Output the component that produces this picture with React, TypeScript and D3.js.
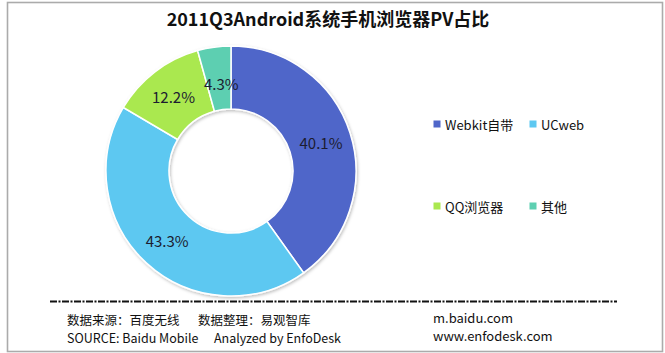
import React from 'react';
import * as d3 from 'd3';

const categories = ['Webkit自带', 'UCweb', 'QQ浏览器', '其他'];
const shares = [40.1, 43.3, 12.2, 4.3];
const colors = ['#4F66C9', '#5DC8F1', '#AAE84F', '#5DCFB1'];

const title = '2011Q3Android系统手机浏览器PV占比';
const footerLeft = [
  ['数据来源：百度无线', '数据整理：易观智库'],
  ['SOURCE: Baidu Mobile', 'Analyzed by EnfoDesk'],
];
const footerRight = ['m.baidu.com', 'www.enfodesk.com'];

const W = 665;
const H = 353;
const FONT = '"Microsoft YaHei", "Noto Sans CJK SC", "Noto Sans", sans-serif';

export default function App() {
  const cx = 231;
  const cy = 171;
  const outer = 125;
  const inner = 62;

  const pie = d3.pie<number>().sort(null).value(d => d);
  const arcs = pie(shares);
  const arc = d3.arc<d3.PieArcDatum<number>>().innerRadius(inner).outerRadius(outer);
  const labelArc = d3
    .arc<d3.PieArcDatum<number>>()
    .innerRadius((inner + outer) / 2 + 1)
    .outerRadius((inner + outer) / 2 + 1);

  // legend: 2 columns, 2 rows
  const legendX = d3.scalePoint<number>().domain([0, 1]).range([437, 533]);
  const legendY = d3.scalePoint<number>().domain([0, 1]).range([124, 206]);

  return (
    <svg
      width={W}
      height={H}
      style={{ position: 'absolute', left: 0, top: 0, fontFamily: FONT }}
    >
      <rect x={0} y={0} width={W} height={H} fill="#fff" />
      <rect x={7.5} y={2.5} width={655} height={349} fill="none" stroke="#ABABAB" strokeWidth={1.6} />

      <text
        x={328}
        y={26}
        textAnchor="middle"
        fontSize={18}
        fontWeight="bold"
        fill="#111"
      >
        {title}
      </text>

      <defs>
        <filter id="sh" x="-10%" y="-10%" width="120%" height="120%">
          <feDropShadow dx="1" dy="1.5" stdDeviation="1.5" floodColor="#000" floodOpacity="0.25" />
        </filter>
      </defs>

      <g transform={`translate(${cx},${cy})`}>
        <g filter="url(#sh)">
          {arcs.map((a, i) => (
            <path key={i} d={arc(a) || ''} fill={colors[i]} stroke="#fff" strokeWidth={1.5} />
          ))}
        </g>
        {arcs.map((a, i) => {
          let [lx, ly] = labelArc.centroid(a);
          if (i === 3) {
            lx += 3;
            ly += 6;
          }
          return (
            <text
              key={i}
              x={lx}
              y={ly}
              textAnchor="middle"
              dominantBaseline="central"
              fontSize={15}
              fill="#1c1c30"
            >
              {`${shares[i].toFixed(1)}%`}
            </text>
          );
        })}
      </g>

      {categories.map((c, i) => {
        const x = legendX(i % 2)!;
        const y = legendY(Math.floor(i / 2))!;
        return (
          <g key={c}>
            <rect x={x - 3.5} y={y - 3.5} width={7} height={7} fill={colors[i]} />
            <text x={x + 8} y={y} dominantBaseline="central" fontSize={13} fill="#111">
              {c}
            </text>
          </g>
        );
      })}

      <line
        x1={50}
        x2={617}
        y1={301.5}
        y2={301.5}
        stroke="#111"
        strokeWidth={2}
        strokeDasharray="7 1.5 2 1.5"
      />

      {footerLeft.map((row, r) => (
        <g key={r}>
          <text x={67} y={325 + r * 18} fontSize={12.5} fill="#111">
            {row[0]}
          </text>
          <text x={r === 0 ? 198 : 214} y={325 + r * 18} fontSize={12.5} fill="#111">
            {row[1]}
          </text>
        </g>
      ))}
      {footerRight.map((t, r) => (
        <text key={t} x={433} y={323 + r * 18} fontSize={13} fill="#111">
          {t}
        </text>
      ))}
    </svg>
  );
}
